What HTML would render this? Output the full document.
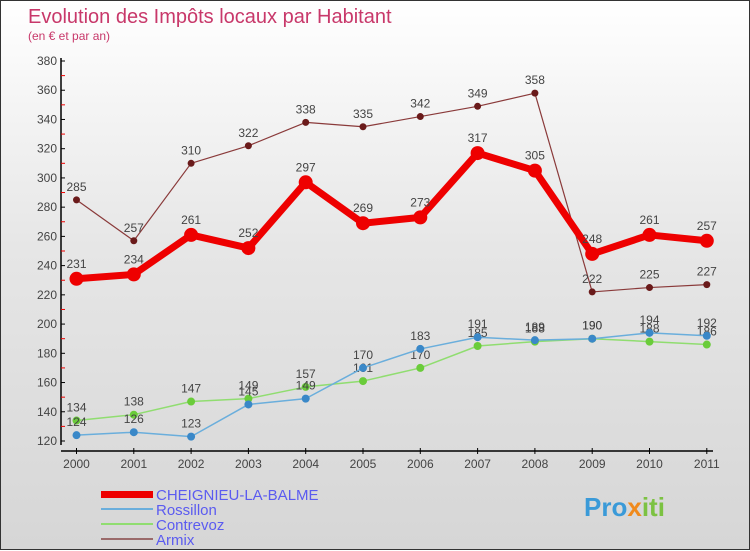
<!DOCTYPE html>
<html><head><meta charset="utf-8">
<style>
html,body{margin:0;padding:0}
body{width:750px;height:550px;overflow:hidden;font-family:"Liberation Sans","DejaVu Sans",sans-serif}
#wrap{position:relative;width:748px;height:548px;border:1px solid #333;background:linear-gradient(#ffffff 0%,#e6e6e6 45%,#d6d6d6 100%)}
svg{position:absolute;left:0;top:0}
</style></head><body>
<div id="wrap">
<svg id="chart" width="750" height="550">
<text x="27" y="22" font-size="20" fill="#c8386a">Evolution des Impôts locaux par Habitant</text>
<text x="27" y="39" font-size="12" fill="#c8386a">(en € et par an)</text>
<g id="axes"></g>
<g id="series"></g>
<g id="legend">
<rect x="100" y="490" width="52" height="7" fill="#e00"/>
<text x="155" y="499" font-size="15" fill="#5b5bf0">CHEIGNIEU-LA-BALME</text>
<line x1="100" x2="152" y1="508" y2="508" stroke="#6aaedc" stroke-width="2"/>
<text x="155" y="514" font-size="15" fill="#5b5bf0">Rossillon</text>
<line x1="100" x2="152" y1="523" y2="523" stroke="#90dd70" stroke-width="2"/>
<text x="155" y="529" font-size="15" fill="#5b5bf0">Contrevoz</text>
<line x1="100" x2="152" y1="538" y2="538" stroke="#9a6a6a" stroke-width="2"/>
<text x="155" y="544" font-size="15" fill="#5b5bf0">Armix</text>
</g>
<text x="583" y="515" font-size="26" font-weight="bold" fill="#3a9ad8">Pro<tspan fill="#f08a1c">x</tspan><tspan fill="#7cc242">iti</tspan></text>
</svg>
</div>
<script>
const years=[2000,2001,2002,2003,2004,2005,2006,2007,2008,2009,2010,2011];
const cheignieu=[231,234,261,252,297,269,273,317,305,248,261,257];
const rossillon=[124,126,123,145,149,170,183,191,189,190,194,192];
const contrevoz=[134,138,147,149,157,161,170,185,188,190,188,186];
const armix=[285,257,310,322,338,335,342,349,358,222,225,227];
const yTicks=[120,140,160,180,200,220,240,260,280,300,320,340,360,380];

const NS="http://www.w3.org/2000/svg";
const x=i=>75.5+i*57.3;
const y=v=>440-(v-120)*(380/260);
function mk(tag,attrs,parent){const e=document.createElementNS(NS,tag);for(const k in attrs)e.setAttribute(k,attrs[k]);parent.appendChild(e);return e;}
const axes=document.getElementById('axes');
let a=mk('line',{x1:60,x2:60,y1:57,y2:444,stroke:'#000','stroke-width':1.5},axes);


a=mk('line',{x1:60,x2:712,y1:450,y2:450,stroke:'#000','stroke-width':1.5},axes);


yTicks.forEach((t,i)=>{
  mk('line',{x1:60,x2:64,y1:y(t),y2:y(t),stroke:'#000'},axes);
  if(i<yTicks.length-1) mk('line',{x1:60,x2:64,y1:y(t+10),y2:y(t+10),stroke:'#e00'},axes);
  const tx=mk('text',{x:56,y:y(t)+4,'font-size':12,'text-anchor':'end',fill:'#444'},axes);
  tx.textContent=t;
  
  
});
years.forEach((yr,i)=>{
  mk('line',{x1:x(i),x2:x(i),y1:447,y2:453,stroke:'#000'},axes);
  const tx=mk('text',{x:x(i),y:467,'font-size':12,'text-anchor':'middle',fill:'#444'},axes);
  tx.textContent=yr;
  
  
});
const sg=document.getElementById('series');
function series(vals,name,color,w,r,dot,fs,off){
  const g=mk('g',{},sg);
  
  
  const pl=mk('polyline',{points:vals.map((v,i)=>x(i)+','+y(v)).join(' '),fill:'none',stroke:color,'stroke-width':w,'stroke-linejoin':'round'},g);
  
  
  vals.forEach((v,i)=>{
    const c=mk('circle',{cx:x(i),cy:y(v),r:r,fill:dot},g);
    
    
    const t=mk('text',{x:x(i),y:y(v)-off,'font-size':fs,'text-anchor':'middle',fill:'#444'},g);
    t.textContent=v;
    
    
  });
}
series(armix,'armix','#8a3a3a',1.2,3.5,'#6a1a1a',12,9);
series(contrevoz,'contrevoz','#90dd70',1.5,4,'#6acc3a',12,9);
series(rossillon,'rossillon','#6aaedc',1.5,4,'#3a88c8',12,9);
series(cheignieu,'cheignieu','#e00',7,7,'#e00',12,11);
</script>
</body></html>
